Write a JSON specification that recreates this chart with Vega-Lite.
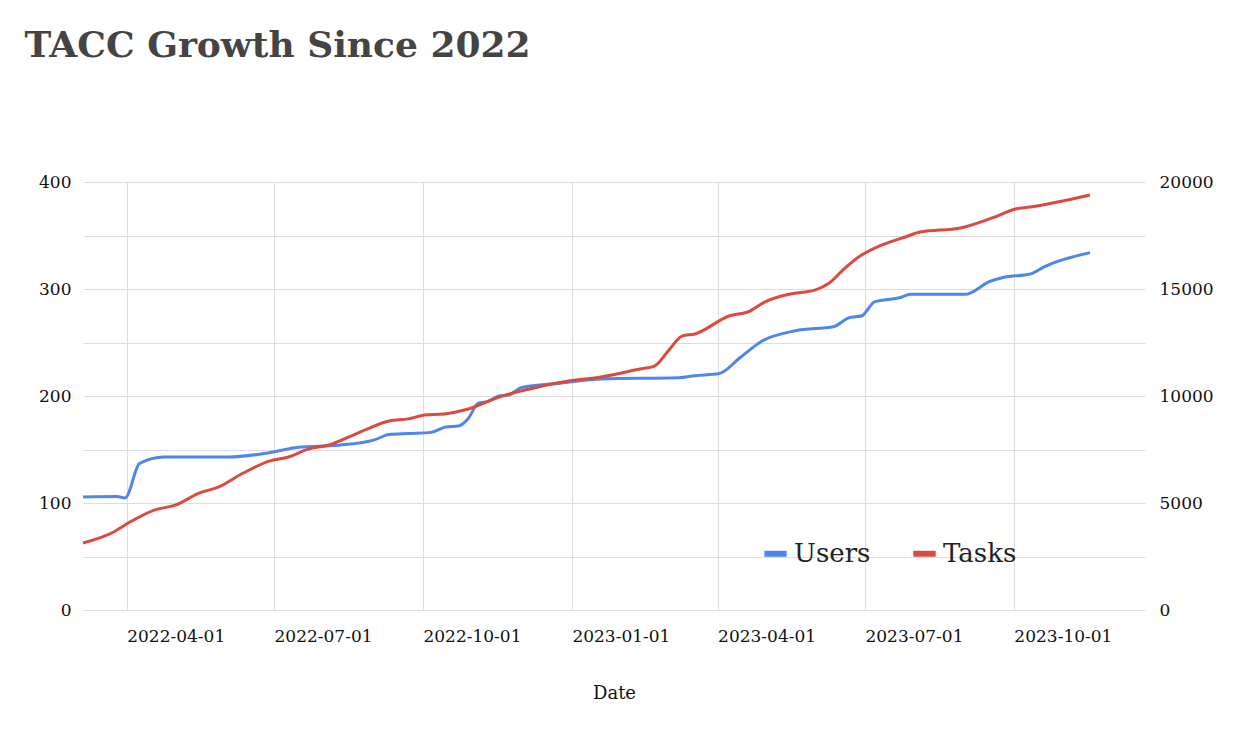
{
  "$schema": "https://vega.github.io/schema/vega-lite/v6.json",
  "width": 1062,
  "height": 428,
  "autosize": {"type": "none"},
  "padding": {"left": 83, "top": 182, "right": 111, "bottom": 142},
  "title": {"text": "TACC Growth Since 2022", "anchor": "start", "frame": "bounds", "dx": -14, "offset": 108, "fontSize": 36, "font": "DejaVu Serif", "fontWeight": "bold", "color": "#444444"},
  "datasets": {
    "growth": [
      {"date": "2022-03-05", "series": "Users", "value": 105.6},
      {"date": "2022-03-26", "series": "Users", "value": 106},
      {"date": "2022-03-31", "series": "Users", "value": 104.7},
      {"date": "2022-04-09", "series": "Users", "value": 137},
      {"date": "2022-04-24", "series": "Users", "value": 143},
      {"date": "2022-06-03", "series": "Users", "value": 143},
      {"date": "2022-06-28", "series": "Users", "value": 147},
      {"date": "2022-07-16", "series": "Users", "value": 152},
      {"date": "2022-08-10", "series": "Users", "value": 154},
      {"date": "2022-09-01", "series": "Users", "value": 159},
      {"date": "2022-09-10", "series": "Users", "value": 164},
      {"date": "2022-09-22", "series": "Users", "value": 165},
      {"date": "2022-10-06", "series": "Users", "value": 166},
      {"date": "2022-10-15", "series": "Users", "value": 171},
      {"date": "2022-10-23", "series": "Users", "value": 172},
      {"date": "2022-10-29", "series": "Users", "value": 179},
      {"date": "2022-11-04", "series": "Users", "value": 193},
      {"date": "2022-11-10", "series": "Users", "value": 195},
      {"date": "2022-11-17", "series": "Users", "value": 200},
      {"date": "2022-11-23", "series": "Users", "value": 201},
      {"date": "2022-12-01", "series": "Users", "value": 208},
      {"date": "2022-12-25", "series": "Users", "value": 212},
      {"date": "2023-01-19", "series": "Users", "value": 216},
      {"date": "2023-03-08", "series": "Users", "value": 217},
      {"date": "2023-03-18", "series": "Users", "value": 219},
      {"date": "2023-04-02", "series": "Users", "value": 221},
      {"date": "2023-04-15", "series": "Users", "value": 236},
      {"date": "2023-04-28", "series": "Users", "value": 251},
      {"date": "2023-05-19", "series": "Users", "value": 261},
      {"date": "2023-06-12", "series": "Users", "value": 265},
      {"date": "2023-06-21", "series": "Users", "value": 273},
      {"date": "2023-06-29", "series": "Users", "value": 275},
      {"date": "2023-07-07", "series": "Users", "value": 288},
      {"date": "2023-07-23", "series": "Users", "value": 292},
      {"date": "2023-07-29", "series": "Users", "value": 295},
      {"date": "2023-09-01", "series": "Users", "value": 295},
      {"date": "2023-09-16", "series": "Users", "value": 307},
      {"date": "2023-09-25", "series": "Users", "value": 311},
      {"date": "2023-10-11", "series": "Users", "value": 314},
      {"date": "2023-10-20", "series": "Users", "value": 321},
      {"date": "2023-11-17", "series": "Users", "value": 334},
      {"date": "2022-03-05", "series": "Tasks", "value": 3130},
      {"date": "2022-03-24", "series": "Tasks", "value": 3645},
      {"date": "2022-04-03", "series": "Tasks", "value": 4110},
      {"date": "2022-04-18", "series": "Tasks", "value": 4670},
      {"date": "2022-05-01", "series": "Tasks", "value": 4900},
      {"date": "2022-05-16", "series": "Tasks", "value": 5470},
      {"date": "2022-05-28", "series": "Tasks", "value": 5750},
      {"date": "2022-06-12", "series": "Tasks", "value": 6400},
      {"date": "2022-06-28", "series": "Tasks", "value": 6960},
      {"date": "2022-07-10", "series": "Tasks", "value": 7150},
      {"date": "2022-07-22", "series": "Tasks", "value": 7520},
      {"date": "2022-08-04", "series": "Tasks", "value": 7710},
      {"date": "2022-08-16", "series": "Tasks", "value": 8080},
      {"date": "2022-08-29", "series": "Tasks", "value": 8500},
      {"date": "2022-09-10", "series": "Tasks", "value": 8830},
      {"date": "2022-09-22", "series": "Tasks", "value": 8930},
      {"date": "2022-10-02", "series": "Tasks", "value": 9110},
      {"date": "2022-10-14", "series": "Tasks", "value": 9160},
      {"date": "2022-10-29", "series": "Tasks", "value": 9390},
      {"date": "2022-11-17", "series": "Tasks", "value": 9950},
      {"date": "2022-12-06", "series": "Tasks", "value": 10330},
      {"date": "2022-12-30", "series": "Tasks", "value": 10700},
      {"date": "2023-01-19", "series": "Tasks", "value": 10890},
      {"date": "2023-02-12", "series": "Tasks", "value": 11260},
      {"date": "2023-02-21", "series": "Tasks", "value": 11400},
      {"date": "2023-03-02", "series": "Tasks", "value": 12150},
      {"date": "2023-03-10", "series": "Tasks", "value": 12800},
      {"date": "2023-03-18", "series": "Tasks", "value": 12900},
      {"date": "2023-04-08", "series": "Tasks", "value": 13740},
      {"date": "2023-04-21", "series": "Tasks", "value": 13970},
      {"date": "2023-04-30", "series": "Tasks", "value": 14390},
      {"date": "2023-05-16", "series": "Tasks", "value": 14770},
      {"date": "2023-05-31", "series": "Tasks", "value": 14950},
      {"date": "2023-06-09", "series": "Tasks", "value": 15280},
      {"date": "2023-06-18", "series": "Tasks", "value": 15930},
      {"date": "2023-06-28", "series": "Tasks", "value": 16540},
      {"date": "2023-07-10", "series": "Tasks", "value": 17010},
      {"date": "2023-07-26", "series": "Tasks", "value": 17430},
      {"date": "2023-08-04", "series": "Tasks", "value": 17660},
      {"date": "2023-08-29", "series": "Tasks", "value": 17850},
      {"date": "2023-09-19", "series": "Tasks", "value": 18360},
      {"date": "2023-10-02", "series": "Tasks", "value": 18740},
      {"date": "2023-10-11", "series": "Tasks", "value": 18830},
      {"date": "2023-11-17", "series": "Tasks", "value": 19390}
    ]
  },
  "data": {"name": "growth"},
  "encoding": {
    "x": {
      "field": "date", "type": "temporal", "title": "Date",
      "scale": {"domain": ["2022-03-05", "2023-12-21"]},
      "axis": {
        "values": ["2022-04-01", "2022-07-01", "2022-10-01", "2023-01-01", "2023-04-01", "2023-07-01", "2023-10-01"],
        "format": "%Y-%m-%d", "labelPadding": 18, "titlePadding": 40,
        "labelAlign": "left", "labelDx": 10, "labelFlush": false, "labelOverlap": false,
        "gridColor": "#dddddd", "domain": false, "ticks": false
      }
    },
    "color": {
      "field": "series", "type": "nominal", "title": null,
      "scale": {"domain": ["Users", "Tasks"], "range": ["#4f86ec", "#db4a3d"]},
      "legend": {
        "orient": "none", "legendX": 678, "legendY": 357, "direction": "horizontal",
        "symbolType": "stroke", "symbolStrokeWidth": 6, "symbolSize": 500,
        "labelFontSize": 26, "labelFont": "DejaVu Serif", "labelColor": "#222222", "columnPadding": 30
      }
    }
  },
  "layer": [
    {
      "transform": [{"filter": "datum.series == 'Users'"}],
      "mark": {"type": "line", "interpolate": "monotone", "strokeWidth": 3},
      "encoding": {
        "y": {
          "field": "value", "type": "quantitative", "title": null,
          "scale": {"domain": [0, 400]},
          "axis": {"values": [0, 50, 100, 150, 200, 250, 300, 350, 400], "labelExpr": "datum.value % 100 == 0 ? datum.label : ''", "gridColor": "#dddddd", "domain": false, "ticks": false, "labelPadding": 12}
        }
      }
    },
    {
      "transform": [{"filter": "datum.series == 'Tasks'"}],
      "mark": {"type": "line", "interpolate": "monotone", "strokeWidth": 3},
      "encoding": {
        "y": {
          "field": "value", "type": "quantitative", "title": null,
          "scale": {"domain": [0, 20000]},
          "axis": {"orient": "right", "values": [0, 5000, 10000, 15000, 20000], "format": "d", "grid": false, "domain": false, "ticks": false, "labelPadding": 14}
        }
      }
    }
  ],
  "resolve": {"scale": {"y": "independent"}},
  "config": {
    "font": "DejaVu Serif",
    "view": {"stroke": null},
    "axis": {"labelFontSize": 17, "labelColor": "#111111", "titleFontSize": 18, "titleFontWeight": "normal", "titleColor": "#111111", "labelFont": "DejaVu Serif", "titleFont": "DejaVu Serif"}
  }
}
